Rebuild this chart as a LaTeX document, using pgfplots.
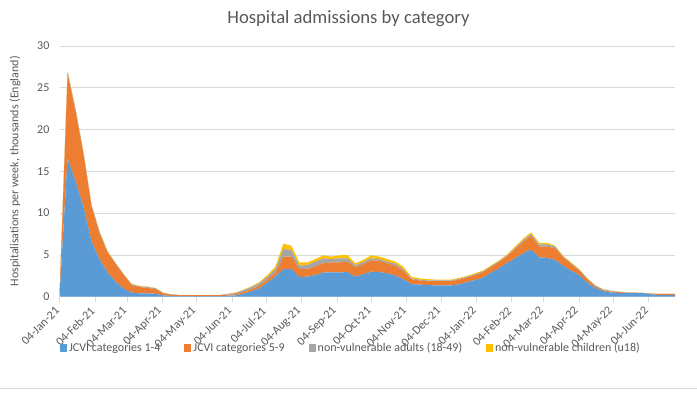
\documentclass[border=0pt]{standalone}
\usepackage{pgfplots}
\pgfplotsset{compat=1.18}
\usepackage{pgfplotstable}
\usepackage{fontspec}
\setmainfont{Carlito}
\definecolor{cblue}{HTML}{5B9BD5}
\definecolor{corange}{HTML}{ED7D31}
\definecolor{cgray}{HTML}{A5A5A5}
\definecolor{cyellow}{HTML}{FFC000}
\definecolor{txt}{HTML}{595959}
\definecolor{gridc}{HTML}{D9D9D9}
\pgfplotstableread{
w b o g y
0 0.3 0.2 0.0 0.0
1 16.6 10.1 0.2 0.1
2 13.8 8.4 0.2 0.05
3 10.7 6.3 0.2 0.05
4 6.6 4.2 0.15 0.05
5 4.5 3.1 0.15 0.05
6 2.9 2.4 0.1 0.05
7 1.8 2.1 0.1 0.05
8 1.0 1.6 0.1 0.05
9 0.5 0.9 0.1 0.05
10 0.4 0.75 0.1 0.05
11 0.4 0.65 0.1 0.05
12 0.35 0.55 0.1 0.05
13 0.15 0.25 0.05 0.0
14 0.1 0.15 0.03 0.0
15 0.08 0.1 0.02 0.0
16 0.08 0.1 0.02 0.0
17 0.08 0.1 0.02 0.0
18 0.08 0.1 0.02 0.0
19 0.08 0.1 0.02 0.0
20 0.08 0.1 0.02 0.0
21 0.12 0.12 0.08 0.03
22 0.15 0.15 0.15 0.05
23 0.36 0.2 0.2 0.08
24 0.64 0.25 0.25 0.1
25 1.0 0.3 0.3 0.15
26 1.7 0.35 0.35 0.2
27 2.4 0.45 0.45 0.3
28 3.3 1.5 0.9 0.65
29 3.3 1.5 0.8 0.5
30 2.35 0.95 0.4 0.4
31 2.4 0.95 0.45 0.3
32 2.6 1.0 0.6 0.3
33 2.9 1.1 0.6 0.35
34 2.9 1.2 0.4 0.3
35 2.9 1.2 0.5 0.35
36 2.95 1.25 0.4 0.4
37 2.4 1.1 0.25 0.25
38 2.7 1.2 0.25 0.25
39 3.0 1.35 0.25 0.35
40 2.95 1.35 0.2 0.3
41 2.8 1.2 0.2 0.3
42 2.55 1.15 0.25 0.25
43 2.1 1.0 0.2 0.3
44 1.5 0.6 0.1 0.2
45 1.45 0.5 0.1 0.15
46 1.4 0.45 0.1 0.15
47 1.35 0.5 0.1 0.1
48 1.35 0.5 0.1 0.1
49 1.35 0.5 0.1 0.1
50 1.5 0.55 0.1 0.1
51 1.75 0.55 0.1 0.1
52 2.0 0.6 0.1 0.1
53 2.3 0.65 0.1 0.1
54 2.9 0.65 0.1 0.1
55 3.4 0.75 0.1 0.1
56 4.05 0.8 0.1 0.1
57 4.6 1.1 0.15 0.15
58 5.2 1.35 0.2 0.2
59 5.65 1.65 0.2 0.2
60 4.7 1.3 0.25 0.2
61 4.65 1.35 0.25 0.2
62 4.4 1.4 0.2 0.1
63 3.7 1.0 0.1 0.1
64 3.1 0.8 0.1 0.1
65 2.6 0.55 0.1 0.05
66 1.7 0.4 0.1 0.05
67 1.05 0.2 0.1 0.03
68 0.68 0.1 0.1 0.02
69 0.5 0.1 0.1 0.02
70 0.45 0.1 0.03 0.02
71 0.45 0.05 0.0 0.0
72 0.45 0.03 0.0 0.0
73 0.42 0.03 0.0 0.0
74 0.3 0.08 0.0 0.0
75 0.2 0.13 0.0 0.0
76 0.2 0.13 0.0 0.0
77 0.2 0.13 0.0 0.0
}\data
\begin{document}
\begin{tikzpicture}[x=1bp,y=1bp]
\useasboundingbox (0,0) rectangle (697,393);
\draw[gridc, line width=0.75bp] (0,4.5) -- (697,4.5);
\node[text=txt, font=\fontsize{18.67bp}{22bp}\selectfont] at (348.5,374.5) {Hospital admissions by category};
\begin{axis}[
  at={(59.6bp,96.3bp)}, anchor=south west,
  width=615.4bp, height=250.7bp, scale only axis,
  xmin=0, xmax=77, ymin=0, ymax=30,
  stack plots=y,
  /pgf/number format/assume math mode=true,
  ytick={0,5,...,30},
  xtick={0,4.4286,8.4286,12.857,17.143,21.571,25.857,30.286,34.714,39,43.429,47.714,52.143,56.571,60.571,65,69.286,73.714},
  xticklabels={04-Jan-21,04-Feb-21,04-Mar-21,04-Apr-21,04-May-21,04-Jun-21,04-Jul-21,04-Aug-21,04-Sep-21,04-Oct-21,04-Nov-21,04-Dec-21,04-Jan-22,04-Feb-22,04-Mar-22,04-Apr-22,04-May-22,04-Jun-22},
  axis x line*=bottom, axis y line*=left,
  x axis line style={draw=gridc, line width=0.75bp, -},
  y axis line style={draw=none},
  ymajorgrids, grid style={draw=gridc, line width=0.75bp},
  xtick style={draw=gridc, line width=0.75bp},
  ytick style={draw=none},
  tick align=outside, major tick length=5bp,
  ticklabel style={text=txt, font=\fontsize{12bp}{14bp}\selectfont},
  xticklabel style={xshift=-1.6bp, yshift=-6.4bp, rotate=45, anchor=east, inner sep=1bp},
  yticklabel style={inner sep=2bp, xshift=-3bp},
  ylabel={Hospitalisations per week, thousands (England)},
  ylabel style={at={(axis description cs:-0.0725,0.5)}, anchor=center, text=txt, font=\fontsize{12bp}{14bp}\selectfont},
  legend columns=4,
  legend style={at={(axis description cs:0.4735,-0.2046)}, anchor=center, draw=none, fill=none,
    font=\fontsize{12bp}{14bp}\selectfont, text=txt,
    /tikz/every even column/.append style={column sep=22bp}},
  legend image code/.code={\fill[#1, draw=none] (0bp,-3.5bp) rectangle (7bp,3.5bp);},
  clip=false,
]
\addplot[fill=cblue, draw=none] table[x=w,y=b]{\data} \closedcycle;
\addlegendentry{JCVI categories 1-4}
\addplot[fill=corange, draw=none] table[x=w,y=o]{\data} \closedcycle;
\addlegendentry{JCVI categories 5-9}
\addplot[fill=cgray, draw=none] table[x=w,y=g]{\data} \closedcycle;
\addlegendentry{non-vulnerable adults (18-49)}
\addplot[fill=cyellow, draw=none] table[x=w,y=y]{\data} \closedcycle;
\addlegendentry{non-vulnerable children (u18)}
\end{axis}
\end{tikzpicture}
\end{document}
